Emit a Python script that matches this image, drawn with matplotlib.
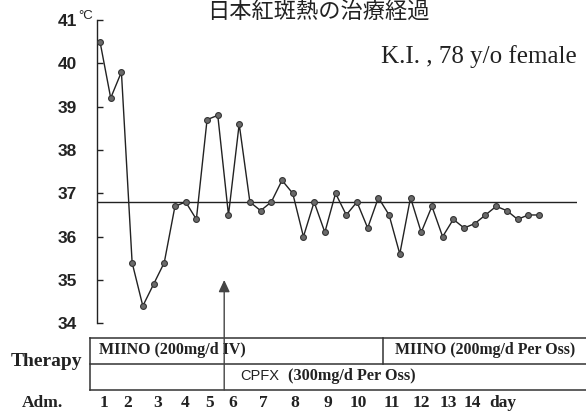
import matplotlib
matplotlib.use("Agg")
import matplotlib.pyplot as plt
import numpy as np

# ---------------- data ----------------
temps = [40.5, 39.2, 39.8, 35.4, 34.4, 34.9, 35.4, 36.7, 36.8, 36.4,
         38.7, 38.8, 36.5, 38.6, 36.8, 36.6, 36.8, 37.3, 37.0, 36.0,
         36.8, 36.1, 37.0, 36.5, 36.8, 36.2, 36.9, 36.5, 35.6, 36.9,
         36.1, 36.7, 36.0, 36.4, 36.2, 36.3, 36.5, 36.7, 36.6, 36.4,
         36.5, 36.5]
normal_temp = 36.8
yticks = [34, 35, 36, 37, 38, 39, 40, 41]
cpfx_start = 11.6          # measurement index where CPFX was started
arrow_tip_temp = 35.0
day_labels = ["1", "2", "3", "4", "5", "6", "7", "8", "9", "10",
              "11", "12", "13", "14", "day"]
title = "日本紅斑熱の治療経過"
patient = "K.I. , 78 y/o female"
therapy_iv = "MIINO (200mg/d IV)"
therapy_po = "MIINO (200mg/d Per Oss)"
cpfx_name = "CPFX"
cpfx_dose = "(300mg/d Per Oss)"

# ---------------- layout (pixels) ----------------
W, H = 586, 412
day_label_x = [104, 128, 158, 185, 210, 233, 263, 295, 328, 358,
               392, 421, 448, 472, 503]

fig = plt.figure(figsize=(W / 100, H / 100), dpi=100)
fig.patch.set_facecolor("white")

lay = fig.add_axes([0, 0, 1, 1])
lay.set_xlim(0, W)
lay.set_ylim(H, 0)
lay.axis("off")

# main plot axes: 41 at y=20px, 34 at y=323.3px; axis x at 96.7px, right end 577px
ax_left, ax_right = 96.7, 577.0
ax_top, ax_bot = 20.0, 323.3
ax = fig.add_axes([ax_left / W, (H - ax_bot) / H,
                   (ax_right - ax_left) / W, (ax_bot - ax_top) / H])
ax.patch.set_alpha(0)
x0_px, step_px = 100.0, 10.707
ax.set_xlim((ax_left - x0_px) / step_px, (ax_right - x0_px) / step_px)
ax.set_ylim(34, 41)

ink = "#222222"
x = np.arange(len(temps))
ax.plot(x, temps, color=ink, lw=1.0, marker="o", markersize=4.2,
        markerfacecolor="#6a6a6a", markeredgecolor="#333333",
        markeredgewidth=0.8, zorder=3)
ax.axhline(normal_temp, color=ink, lw=1.0, zorder=2)

for s in ["top", "right", "bottom"]:
    ax.spines[s].set_visible(False)
ax.spines["left"].set_color(ink)
ax.spines["left"].set_linewidth(1.0)
ax.set_xticks([])
ax.set_yticks(yticks)
ax.set_yticklabels([str(t) for t in yticks])
ax.tick_params(axis="y", direction="in", length=4, width=1.0, color=ink,
               pad=14, labelsize=12.5, labelcolor=ink)
for lab in ax.get_yticklabels():
    lab.set_fontfamily("Liberation Sans")
    lab.set_fontweight("bold")

# degree C unit
lay.text(78, 16, "°C", fontsize=9.5, fontfamily="Liberation Sans",
         color=ink, ha="left", va="center")

# arrow marking the CPFX start
ax.annotate("", xy=(cpfx_start, arrow_tip_temp), xytext=(cpfx_start, H - 390),
            textcoords=("data", "figure pixels"), annotation_clip=False,
            arrowprops=dict(arrowstyle="-|>,head_length=0.6,head_width=0.28",
                            mutation_scale=12, color="#444444", lw=1.0,
                            shrinkA=0, shrinkB=0, facecolor="#888888"))

# title and patient info
lay.text(318, 1, title, fontsize=16, fontfamily=["Noto Sans CJK JP", "DejaVu Sans"],
         color=ink, ha="center", va="top")
lay.text(577, 57, patient, fontsize=18, fontfamily="Liberation Serif",
         color=ink, ha="right", va="center")

# therapy table
tcol = "#333333"
t_top, t_mid, t_bot = 337.7, 363.8, 390.0
t_left, t_split = 90.0, 383.3
for yy in (t_top, t_mid, t_bot):
    lay.plot([t_left, W + 5], [yy, yy], color=tcol, lw=1.1, clip_on=False)
lay.plot([t_left, t_left], [t_top, t_bot], color=tcol, lw=1.1)
lay.plot([t_split, t_split], [t_top, t_mid], color=tcol, lw=1.1)

serif_b = dict(fontfamily="Liberation Serif", fontweight="bold", color=ink)
lay.text(99, 350, therapy_iv, fontsize=11.5, ha="left", va="center", **serif_b)
lay.text(395, 350, therapy_po, fontsize=11.4, ha="left", va="center", **serif_b)
lay.text(240, 376, cpfx_name, fontsize=10.5, fontfamily="Liberation Sans",
         color=ink, ha="left", va="center")
lay.text(288, 376, cpfx_dose, fontsize=11.7, ha="left", va="center", **serif_b)

lay.text(46, 362, "Therapy", fontsize=14, ha="center", va="center", **serif_b)
lay.text(42, 403, "Adm.", fontsize=12.5, ha="center", va="center", **serif_b)
for lx, lab in zip(day_label_x, day_labels):
    lay.text(lx, 403, lab, fontsize=12.5, ha="center", va="center", **serif_b)

fig.savefig("out.png", dpi=100, facecolor="white")
